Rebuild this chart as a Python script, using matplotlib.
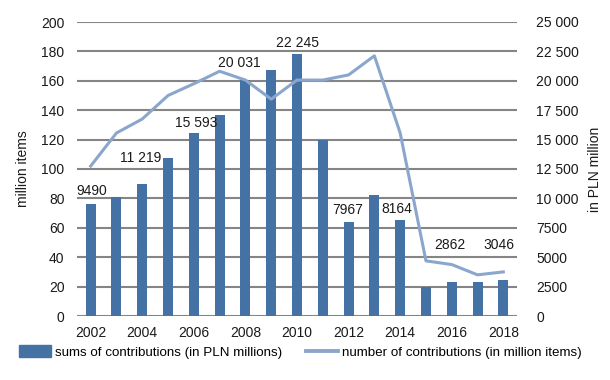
import matplotlib
matplotlib.use("Agg")
import matplotlib.pyplot as plt
from matplotlib import font_manager as fm
import numpy as np

years = list(range(2002, 2019))
sums_pln = [9490, 10150, 11219, 13450, 15593, 17100, 20031, 20900, 22245,
            14950, 7967, 10280, 8164, 2480, 2862, 2860, 3046]
counts_mln = [102, 124.5, 134, 150, 158, 166.5, 160.5, 147.5, 160.5,
              160.5, 164, 177, 124.5, 37.5, 35, 28, 30]
label_years = [2002, 2004, 2006, 2008, 2010, 2012, 2014, 2016, 2018]
label_texts = ["9490", "11 219", "15 593", "20 031", "22 245", "7967", "8164", "2862", "3046"]
label_offsets_px = [13, 26, 10, 17, 11, 12, 11, 37, 35]
label_dx_px = [1, -2, 2, -6, 0, -1, -3, -2, -4]
left_ticks = [0, 20, 40, 60, 80, 100, 120, 140, 160, 180, 200]
right_ticks = [0, 2500, 5000, 7500, 10000, 12500, 15000, 17500, 20000, 22500, 25000]
right_labels = ["0", "2500", "5000", "7500", "10 000", "12 500", "15 000",
                "17 500", "20 000", "22 500", "25 000"]
xtick_years = [2002, 2004, 2006, 2008, 2010, 2012, 2014, 2016, 2018]

avail = {f.name for f in fm.fontManager.ttflist}
fam = [f for f in ["Liberation Sans Narrow", "Liberation Sans", "DejaVu Sans"] if f in avail]
plt.rcParams['font.family'] = fam
plt.rcParams['font.size'] = 10

bar_color = "#4472a4"
line_color = "#8ba6cd"
grid_color = "#858585"
text_color = "#1a1a1a"

fig = plt.figure(figsize=(6.10, 3.80), dpi=100)
ax = fig.add_axes([77/610, 1 - 316/380, 440/610, 294/380])
ax2 = ax.twinx()

x = np.arange(len(years))
ax2.bar(x, sums_pln, width=0.39, color=bar_color, zorder=2)
ax2.set_ylim(0, 25000)
ax.set_ylim(0, 200)
ax.set_xlim(-0.53, len(years) - 0.47)

for t in left_ticks:
    ax2.axhline(t * 125, color=grid_color, lw=1.5, zorder=0)

ax.set_zorder(ax2.get_zorder() + 1)
ax.patch.set_visible(False)
ax.plot(x, counts_mln, color=line_color, lw=2.2, zorder=3)

ax.set_yticks(left_ticks)
ax.set_yticklabels([str(t) for t in left_ticks])
ax2.set_yticks(right_ticks)
ax2.set_yticklabels(right_labels)
ax.set_xticks([years.index(y) for y in xtick_years])
ax.set_xticklabels([str(y) for y in xtick_years])

for a in (ax, ax2):
    for s in a.spines.values():
        s.set_visible(False)
    a.tick_params(length=0, colors=text_color, labelsize=10)
ax.tick_params(axis='y', pad=9)
ax2.tick_params(axis='y', pad=14)
ax.tick_params(axis='x', pad=7)

ax.set_ylabel("million items", color=text_color, fontsize=10, labelpad=8)
ax2.set_ylabel("in PLN million", color=text_color, fontsize=10, labelpad=6)

for yr, txt, off, dx in zip(label_years, label_texts, label_offsets_px, label_dx_px):
    i = years.index(yr)
    ax2.annotate(txt, (i, sums_pln[i]), xytext=(dx * 0.72, off * 0.72),
                 textcoords='offset points', ha='center', va='center',
                 fontsize=10, color=text_color, zorder=5)

from matplotlib.patches import Patch
from matplotlib.lines import Line2D
handles = [Patch(color=bar_color, label="sums of contributions (in PLN millions)"),
           Line2D([0], [0], color=line_color, lw=2.8, label="number of contributions (in million items)")]
fig.legend(handles=handles, loc='center', bbox_to_anchor=(0.493, 1 - 352/380), ncol=2,
           frameon=False, fontsize=9.6, handlelength=2.4, handleheight=0.9,
           columnspacing=1.8, handletextpad=0.3)

fig.savefig("out.png", dpi=100)
